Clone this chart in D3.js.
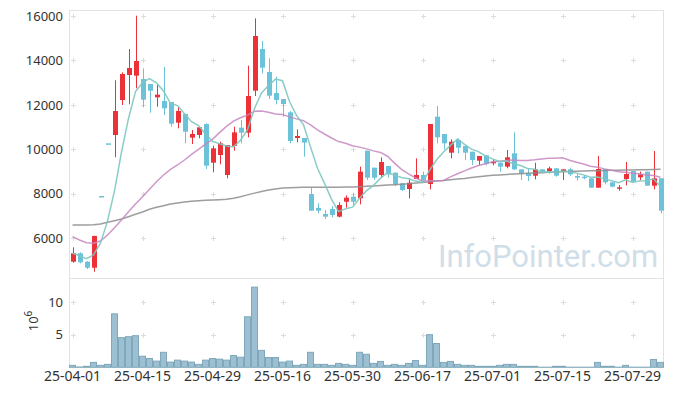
<!DOCTYPE html>
<html>
<head>
<meta charset="utf-8">
<script src="https://cdn.jsdelivr.net/npm/d3@7"></script>
<style>
  body { margin: 0; background: #fff; }
  svg { display: block; font-family: "Noto Sans", "DejaVu Sans", sans-serif; }
  .tick text { fill: #333; font-size: 13px; }
  .x-axis .tick text { font-size: 14px; }
</style>
</head>
<body>
<script>
// trading days
var dates = ["25-04-01","25-04-02","25-04-03","25-04-04","25-04-07","25-04-08","25-04-09","25-04-10","25-04-11","25-04-14",
  "25-04-15","25-04-16","25-04-17","25-04-18","25-04-21","25-04-22","25-04-23","25-04-24","25-04-25","25-04-28",
  "25-04-29","25-04-30","25-05-02","25-05-07","25-05-08","25-05-09","25-05-12","25-05-13","25-05-14","25-05-15",
  "25-05-16","25-05-19","25-05-20","25-05-21","25-05-22","25-05-23","25-05-26","25-05-27","25-05-28","25-05-29",
  "25-05-30","25-06-02","25-06-04","25-06-05","25-06-09","25-06-10","25-06-11","25-06-12","25-06-13","25-06-16",
  "25-06-17","25-06-18","25-06-19","25-06-20","25-06-23","25-06-24","25-06-25","25-06-26","25-06-27","25-06-30",
  "25-07-01","25-07-02","25-07-03","25-07-04","25-07-07","25-07-08","25-07-09","25-07-10","25-07-11","25-07-14",
  "25-07-15","25-07-16","25-07-17","25-07-18","25-07-21","25-07-22","25-07-23","25-07-24","25-07-25","25-07-28",
  "25-07-29","25-07-30","25-07-31","25-08-01","25-08-04"];

var opens = [4943,5321,4943,4673,7900,10270,10645,12220,13345,13315,
  13165,12940,12340,12175,12130,11200,11590,10525,10645,11140,
  9400,9745,8845,10150,10975,10750,12640,14515,13480,12535,
  12265,11665,10510,10510,7990,7360,7090,7315,6970,7645,
  7870,7795,9940,9175,8845,9250,8950,8470,8215,8665,
  8845,8440,11470,10690,9850,10420,10150,9895,9490,9730,
  9370,9400,9220,9820,9100,8920,8815,9100,9025,9145,
  8995,9100,8800,8770,8695,8275,9115,8515,8230,8665,
  9025,8740,8995,8365,8695];
var highs = [5591,5365,4975,6115,7900,10270,13107,13465,14515,16015,
  13645,12940,12895,13705,12130,11905,11590,10870,11020,11170,
  10165,10345,10195,11020,11320,13765,15895,14875,14095,13270,
  12265,11725,10900,10510,8275,7570,7270,7450,7615,7930,
  8020,9220,9940,9175,9640,9250,8950,8470,8695,9595,
  8995,11140,11950,10690,10450,10480,10150,9895,9700,9730,
  9550,9400,9970,10765,9100,9145,9400,9100,9220,9145,
  9100,9175,8890,8845,8695,9700,9115,8515,8395,9430,
  9025,8995,8995,9925,8695];
var lows = [4899,4870,4615,4494,7900,10270,9641,11995,12025,12745,
  11905,11650,11920,11545,11020,10945,10270,10240,10495,9115,
  8965,9325,8695,9940,10270,10540,12400,13420,12265,12025,
  11470,10270,10315,9670,7240,7120,6865,6940,6940,7375,
  7495,7525,8620,8620,8725,8725,8350,8125,7795,8665,
  8590,8200,10270,10000,9595,9820,9520,9295,9280,9280,
  9280,8995,9145,9070,8620,8575,8650,8920,8920,8770,
  8620,8800,8590,8650,8275,8275,8425,8290,8140,8380,
  8500,8620,8365,8200,7120];
var closes = [5321,4916,4673,6100,7900,10270,11725,13390,13660,13975,
  12235,12640,12460,11845,11155,11725,10795,10690,10990,9265,
  10045,10270,10195,10765,10750,12400,15100,13675,12415,12220,
  12040,10375,10600,10300,7240,7240,6970,7045,7495,7825,
  7645,8995,8725,8725,9430,8875,8440,8170,8500,8845,
  8590,11140,10540,10270,10345,10075,9850,9520,9700,9340,
  9445,9220,9640,9100,8920,8800,9100,8995,9145,8815,
  9100,8875,8725,8740,8275,9115,8515,8320,8290,8890,
  8545,8875,8365,8695,7240];
// volume in millions
var volumes = [0.3,0.05,0.15,0.75,0.3,0.45,8.2,4.55,4.7,4.85,
  1.7,1.35,0.95,2.3,0.8,1.1,0.95,0.8,0.45,1.1,
  1.35,1.25,1.1,1.8,1.55,7.75,12.3,2.6,1.5,1.5,
  0.8,0.95,0.3,0.45,2.3,0.45,0.45,0.3,0.6,0.45,
  0.3,2.3,2.0,0.6,0.9,0.3,0.45,0.3,0.6,1.05,
  0.3,5.0,3.65,0.75,0.9,0.45,0.3,0.3,0.15,0.15,
  0.15,0.3,0.45,0.45,0.15,0.15,0.15,0.02,0.02,0.15,
  0.15,0.02,0.02,0.02,0.02,0.75,0.15,0.15,0.02,0.3,
  0.02,0.02,0.02,1.2,0.75];
var ma5 = [5320,5210,5080,5250,5780,6770,8130,9880,11390,12600,
  13000,13180,12990,12630,12070,11970,11600,11240,11070,10690,
  10360,10250,10150,10110,10410,10880,11840,12540,12870,13160,
  13090,12150,11530,11110,10110,9150,8470,7760,7200,7320,
  7400,7800,8140,8380,8700,8950,8840,8730,8680,8570,
  8510,9050,9520,9880,10180,10470,10220,10010,9900,9700,
  9570,9450,9470,9350,9270,9140,9110,8980,8990,8970,
  9030,8990,8930,8850,8740,8750,8670,8590,8500,8630,
  8510,8580,8590,8670,8340];
var ma20 = [6070,5920,5800,5770,5875,6145,6475,6820,7195,7540,
  7870,8200,8545,8845,9100,9295,9520,9775,10000,10230,
  10450,10750,11030,11270,11420,11540,11710,11730,11670,11590,
  11570,11460,11370,11290,11100,10880,10690,10510,10350,10270,
  10160,10100,10020,9930,9860,9690,9380,9100,8900,8720,
  8560,8590,8590,8600,8760,8900,9030,9160,9270,9350,
  9440,9460,9500,9520,9500,9500,9530,9570,9600,9600,
  9620,9510,9420,9340,9240,9190,9120,9060,8990,8970,
  8920,8900,8840,8820,8740];
var ma60 = [6595,6595,6595,6610,6640,6715,6790,6865,6970,7075,
  7180,7300,7390,7465,7540,7585,7630,7660,7690,7705,
  7720,7735,7750,7800,7870,7950,8030,8100,8170,8220,
  8255,8275,8285,8290,8290,8290,8290,8295,8295,8300,
  8305,8320,8335,8350,8370,8390,8410,8430,8450,8480,
  8510,8540,8570,8600,8630,8660,8690,8730,8770,8800,
  8830,8850,8870,8890,8905,8920,8935,8950,8965,8980,
  8995,9005,9015,9025,9035,9040,9050,9055,9060,9065,
  9070,9080,9085,9090,9100];

var yTicks = [6000,8000,10000,12000,14000,16000];
var volTicks = [5,10];
var xTicks = ["25-04-01","25-04-15","25-04-29","25-05-16","25-05-30","25-06-17","25-07-01","25-07-15","25-07-29"];

var data = dates.map(function(d,i){
  return {date:d, o:opens[i], h:highs[i], l:lows[i], c:closes[i], v:volumes[i]};
});

var width = 673, height = 396;
var plotLeft = 69, plotRight = 664, plotTop = 10, plotMid = 278, plotBottom = 367.3;

var svg = d3.select("body").append("svg")
  .attr("width", width).attr("height", height);

var x = d3.scaleBand().domain(dates).range([plotLeft, plotRight]).padding(0);
var cx = function(d){ return x(d) + x.bandwidth()/2; };
var y = d3.scaleLinear().domain([4210, 16270]).range([plotMid, plotTop]);
var yv = d3.scaleLinear().domain([0, 13.7]).range([plotBottom, plotMid]);

// frame
var frame = svg.append("g").attr("stroke", "#e3e3e3").attr("stroke-width", 1);
frame.append("line").attr("x1", plotLeft+0.5).attr("x2", plotLeft+0.5).attr("y1", plotTop).attr("y2", plotBottom);
frame.append("line").attr("x1", plotRight-0.5).attr("x2", plotRight-0.5).attr("y1", plotTop).attr("y2", plotBottom);
frame.append("line").attr("x1", plotLeft).attr("x2", plotRight).attr("y1", plotTop+0.5).attr("y2", plotTop+0.5);
frame.append("line").attr("x1", plotLeft).attr("x2", plotRight).attr("y1", plotMid+0.5).attr("y2", plotMid+0.5);

// grid crosses
var crosses = [];
xTicks.forEach(function(t){
  yTicks.forEach(function(v){ crosses.push([cx(t), y(v)]); });
  volTicks.forEach(function(v){ crosses.push([cx(t), yv(v)]); });
});
svg.append("g").selectAll("path").data(crosses).enter().append("path")
  .attr("d", function(p){ var px = Math.round(p[0])+0.5, py = Math.round(p[1])+0.5;
    return "M"+(px-2.5)+","+py+"h5M"+px+","+(py-2.5)+"v5"; })
  .attr("stroke", "#dcdcdc").attr("stroke-width", 1).attr("fill", "none");

// watermark
svg.append("text")
  .attr("x", 438).attr("y", 267)
  .attr("font-family", "Roboto, sans-serif")
  .attr("font-size", 31)
  .attr("fill", "#cfdee8")
  .text("InfoPointer.com");

// volume bars
svg.append("g").selectAll("rect").data(data).enter().append("rect")
  .attr("x", function(d){ return x(d.date)+0.5; })
  .attr("width", x.bandwidth()-1)
  .attr("y", function(d){ return yv(d.v); })
  .attr("height", function(d){ return plotBottom - yv(d.v); })
  .attr("fill", "#9cc0d1").attr("stroke", "#7fa8ba").attr("stroke-width", 1);

// candles
var up = "#ec3138", down = "#6cc2d8";
var candles = svg.append("g").selectAll("g").data(data).enter().append("g")
  .attr("fill", function(d){ return d.c > d.o ? up : down; })
  .attr("stroke", function(d){ return d.c > d.o ? up : down; });
candles.append("line")
  .attr("x1", function(d){ return Math.round(cx(d.date))+0.5; })
  .attr("x2", function(d){ return Math.round(cx(d.date))+0.5; })
  .attr("y1", function(d){ return y(d.h); })
  .attr("y2", function(d){ return y(d.l); })
  .attr("stroke-width", 1);
candles.append("rect")
  .attr("x", function(d){ return Math.round(cx(d.date))-2; })
  .attr("width", 5)
  .attr("y", function(d){ return y(Math.max(d.o, d.c)); })
  .attr("height", function(d){ return Math.max(1.5, Math.abs(y(d.o)-y(d.c))); })
  .attr("stroke", "none");

// moving averages
var line = function(arr){
  return d3.line().x(function(d,i){ return cx(dates[i]); }).y(function(d){ return y(d); })(arr);
};
svg.append("path").attr("d", line(ma60)).attr("fill", "none")
  .attr("stroke", "#8c8c8c").attr("stroke-opacity", 0.85).attr("stroke-width", 1.5);
svg.append("path").attr("d", line(ma20)).attr("fill", "none")
  .attr("stroke", "#c587bf").attr("stroke-opacity", 0.85).attr("stroke-width", 1.5);
svg.append("path").attr("d", line(ma5)).attr("fill", "none")
  .attr("stroke", "#7ec8c0").attr("stroke-opacity", 0.9).attr("stroke-width", 1.5);

// axes
var yAxis = d3.axisLeft(y).tickValues(yTicks).tickSize(0).tickPadding(6).tickFormat(d3.format("d"));
svg.append("g").attr("transform", "translate("+plotLeft+",0)").call(yAxis)
  .call(function(g){ g.select(".domain").remove(); });

var vAxis = d3.axisLeft(yv).tickValues(volTicks).tickSize(0).tickPadding(6);
svg.append("g").attr("transform", "translate("+plotLeft+",0)").call(vAxis)
  .call(function(g){ g.select(".domain").remove(); });

var xAxis = d3.axisBottom(x).tickValues(xTicks).tickSize(0).tickPadding(4);
svg.append("g").attr("class", "x-axis").attr("transform", "translate(0,"+plotBottom+")").call(xAxis)
  .call(function(g){ g.select(".domain").remove(); });

svg.selectAll(".tick text").attr("font-family", "\"Noto Sans\", sans-serif");

// volume unit
var unit = svg.append("text")
  .attr("transform", "translate(38,321) rotate(-90)")
  .attr("text-anchor", "middle")
  .attr("font-size", 13).attr("fill", "#333");
unit.append("tspan").text("10");
unit.append("tspan").attr("dy", -6).attr("font-size", 10).text("6");
</script>
</body>
</html>
